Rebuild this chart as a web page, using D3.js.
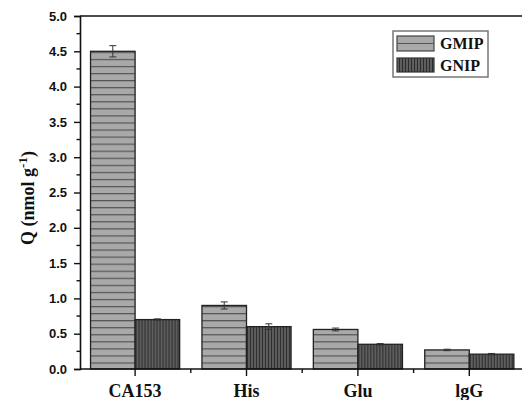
<!DOCTYPE html>
<html>
<head>
<meta charset="utf-8">
<script src="https://cdn.jsdelivr.net/npm/d3@7"></script>
<style>
  body { margin: 0; background: #fff; }
  svg { display: block; }
</style>
</head>
<body>
<svg></svg>
<script>
// Q (nmol/g) per sample, two polymers
var categories = ['CA153', 'His', 'Glu', 'lgG']
var series = ['GMIP', 'GNIP']
var gmip = [4.50, 0.90, 0.56, 0.27]
var gmipErr = [0.08, 0.05, 0.02, 0.01]
var gnip = [0.70, 0.60, 0.35, 0.21]
var gnipErr = [0.01, 0.04, 0.01, 0.01]
var yTicks = [0, 0.5, 1, 1.5, 2, 2.5, 3, 3.5, 4, 4.5, 5]

var width = 522
var height = 400
var padL = 80, padR = 525, padT = 16, padB = 369

var svg = d3.select('svg')
  .attr('width', width)
  .attr('height', height)

var yScale = d3.scaleLinear()
  .domain([0, 5])
  .range([padB, padT])

var xScale = d3.scaleBand()
  .domain(categories)
  .range([padL - 0.6, padR])
  .paddingInner(0.2)
  .paddingOuter(0.1)

var xSub = d3.scaleBand()
  .domain(series)
  .range([0, xScale.bandwidth()])

var rows = categories.map((c, i) => ({
  cat: c,
  vals: [
    {s: 'GMIP', v: gmip[i], e: gmipErr[i]},
    {s: 'GNIP', v: gnip[i], e: gnipErr[i]}
  ]
}))

// patterns
var defs = svg.append('defs')
var stripeH = yScale(0) - yScale(0.1)
var hp = defs.append('pattern')
  .attr('id', 'hstripe')
  .attr('patternUnits', 'userSpaceOnUse')
  .attr('x', 0).attr('y', yScale(0) + 0.5)
  .attr('width', 10).attr('height', stripeH)
hp.append('rect').attr('width', 10).attr('height', stripeH).attr('fill', '#a9a9a9')
hp.append('rect').attr('width', 10).attr('height', 1.2).attr('fill', '#555')

var vp = defs.append('pattern')
  .attr('id', 'vstripe')
  .attr('patternUnits', 'userSpaceOnUse')
  .attr('x', 0).attr('y', 0)
  .attr('width', 3).attr('height', 10)
vp.append('rect').attr('width', 3).attr('height', 10).attr('fill', '#5e5e5e')
vp.append('rect').attr('width', 1).attr('height', 10).attr('fill', '#2c2c2c')

var fills = {GMIP: 'url(#hstripe)', GNIP: 'url(#vstripe)'}

// bars
var groups = svg.selectAll('.grp')
  .data(rows)
  .enter()
  .append('g')
    .classed('grp', true)
    .attr('transform', d => 'translate(' + xScale(d.cat) + ',0)')

groups.selectAll('rect')
  .data(d => d.vals)
  .enter()
  .append('rect')
    .attr('x', d => xSub(d.s))
    .attr('y', d => yScale(d.v))
    .attr('width', xSub.bandwidth())
    .attr('height', d => yScale(0) - yScale(d.v))
    .attr('fill', d => fills[d.s])
    .attr('stroke', '#222')
    .attr('stroke-width', 1.3)

// error bars
var eb = groups.selectAll('.err')
  .data(d => d.vals)
  .enter()
  .append('g')
    .classed('err', true)
    .attr('stroke', '#333')
    .attr('stroke-width', 1)

eb.append('line')
  .attr('x1', d => xSub(d.s) + xSub.bandwidth() / 2)
  .attr('x2', d => xSub(d.s) + xSub.bandwidth() / 2)
  .attr('y1', d => yScale(d.v + d.e))
  .attr('y2', d => yScale(d.v - d.e))
eb.selectAll('.cap')
  .data(d => [{s: d.s, y: d.v + d.e}, {s: d.s, y: d.v - d.e}])
  .enter()
  .append('line')
    .attr('x1', d => xSub(d.s) + xSub.bandwidth() / 2 - 3.5)
    .attr('x2', d => xSub(d.s) + xSub.bandwidth() / 2 + 3.5)
    .attr('y1', d => yScale(d.y))
    .attr('y2', d => yScale(d.y))

// y axis
var yAxis = d3.axisLeft(yScale)
  .tickValues(yTicks)
  .tickFormat(d3.format('.1f'))
  .tickSize(6)
  .tickPadding(7)

var yg = svg.append('g')
  .attr('transform', 'translate(' + padL + ',0)')
  .call(yAxis)
yg.select('.domain').attr('stroke', '#111').attr('stroke-width', 1.6)
yg.selectAll('.tick line').attr('stroke', '#111').attr('stroke-width', 1.4)
yg.selectAll('.tick text')
  .attr('fill', '#111')
  .style('font-family', 'Liberation Sans, Arial, sans-serif')
  .style('font-weight', 'bold')
  .style('font-size', '13px')

// minor y ticks
svg.append('g').selectAll('line')
  .data(yTicks.slice(0, -1))
  .enter()
  .append('line')
    .attr('x1', padL - 3.5).attr('x2', padL)
    .attr('y1', d => yScale(d + 0.25))
    .attr('y2', d => yScale(d + 0.25))
    .attr('stroke', '#111')
    .attr('stroke-width', 1.4)

// x axis
var xg = svg.append('g')
xg.append('line')
  .attr('x1', padL).attr('x2', width)
  .attr('y1', padB).attr('y2', padB)
  .attr('stroke', '#111').attr('stroke-width', 1.6)
xg.selectAll('.major')
  .data(categories)
  .enter()
  .append('line')
    .attr('x1', d => xScale(d) + xScale.bandwidth() / 2)
    .attr('x2', d => xScale(d) + xScale.bandwidth() / 2)
    .attr('y1', padB).attr('y2', padB + 7)
    .attr('stroke', '#111').attr('stroke-width', 1.4)
xg.selectAll('.minor')
  .data(categories.slice(1))
  .enter()
  .append('line')
    .attr('x1', d => xScale(d) - xScale.step() * xScale.paddingInner() / 2)
    .attr('x2', d => xScale(d) - xScale.step() * xScale.paddingInner() / 2)
    .attr('y1', padB).attr('y2', padB + 4)
    .attr('stroke', '#111').attr('stroke-width', 1.4)
xg.selectAll('text')
  .data(categories)
  .enter()
  .append('text')
    .text(d => d)
    .attr('x', d => xScale(d) + xScale.bandwidth() / 2)
    .attr('y', 397)
    .attr('text-anchor', 'middle')
    .attr('fill', '#111')
    .style('font-family', 'Liberation Serif, Times New Roman, serif')
    .style('font-weight', 'bold')
    .style('font-size', '18px')

// top frame line
svg.append('line')
  .attr('x1', padL).attr('x2', width)
  .attr('y1', padT).attr('y2', padT)
  .attr('stroke', '#111').attr('stroke-width', 1.6)

// y title
var yt = svg.append('text')
  .attr('transform', 'translate(34,198) rotate(-90)')
  .attr('text-anchor', 'middle')
  .attr('fill', '#111')
  .style('font-family', 'Liberation Serif, Times New Roman, serif')
  .style('font-weight', 'bold')
  .style('font-size', '18px')
yt.append('tspan').text('Q (nmol g')
yt.append('tspan').text('-1').attr('dy', -7).style('font-size', '13px')
yt.append('tspan').text(')').attr('dy', 7)

// legend
var lg = svg.append('g').attr('transform', 'translate(393,31)')
lg.append('rect')
  .attr('width', 95).attr('height', 46)
  .attr('fill', '#fff')
  .attr('stroke', '#777').attr('stroke-width', 1.5)
lg.append('rect')
  .attr('x', 4).attr('y', 5).attr('width', 37).attr('height', 15)
  .attr('fill', '#a9a9a9').attr('stroke', '#444').attr('stroke-width', 1.2)
lg.append('line')
  .attr('x1', 4).attr('x2', 41).attr('y1', 12.5).attr('y2', 12.5)
  .attr('stroke', '#555').attr('stroke-width', 1.2)
lg.append('rect')
  .attr('x', 4).attr('y', 27).attr('width', 37).attr('height', 14)
  .attr('fill', 'url(#vstripe)').attr('stroke', '#333').attr('stroke-width', 1.2)
lg.selectAll('.lt')
  .data(series)
  .enter()
  .append('text')
    .text(d => d)
    .attr('x', 47)
    .attr('y', (d, i) => 18 + i * 22)
    .attr('fill', '#111')
    .style('font-family', 'Liberation Serif, Times New Roman, serif')
    .style('font-weight', 'bold')
    .style('font-size', '16px')
</script>
</body>
</html>
